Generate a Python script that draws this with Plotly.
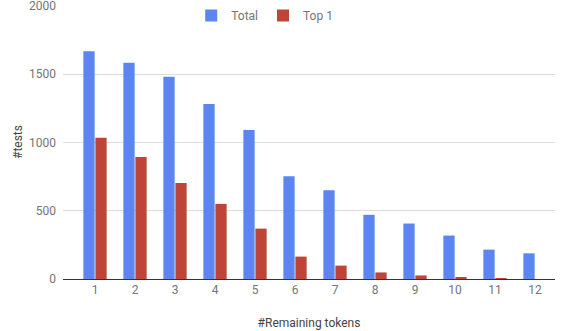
import plotly.graph_objects as go

categories = [1, 2, 3, 4, 5, 6, 7, 8, 9, 10, 11, 12]
tick_labels = ["1", "2", "3", "4", "5", "6", "7", "8", "9", "10", "11", "12"]
total = [1668, 1583, 1480, 1282, 1091, 753, 650, 470, 406, 318, 215, 188]
top1 = [1035, 893, 702, 550, 369, 164, 98, 48, 26, 12, 2, 0]

fig = go.Figure()
fig.add_trace(go.Bar(x=categories, y=total, name="Total", marker=dict(color="#5B86EF", line=dict(width=0))))
fig.add_trace(go.Bar(x=categories, y=top1, name="Top 1", marker=dict(color="#BF4438", line=dict(width=0))))

fig.update_layout(
    width=566, height=331,
    margin=dict(l=63, r=11, t=5, b=52, autoexpand=False),
    paper_bgcolor="white", plot_bgcolor="white",
    font=dict(family="Roboto", size=12, color="#757575"),
    barmode="group", bargap=0.4, bargroupgap=0.06,
    legend=dict(orientation="h", x=0.41, xanchor="center", y=1.015, yanchor="top",
                itemwidth=30, font=dict(size=12, color="#757575"), bgcolor="rgba(0,0,0,0)"),
    xaxis=dict(range=[0.2, 12.5], tickmode="array", tickvals=categories, ticktext=tick_labels,
               showgrid=False, zeroline=False, showline=True, linecolor="#333333", linewidth=1,
               ticks="", title=dict(text="#Remaining tokens", standoff=22, font=dict(size=12, color="#444444"))),
    yaxis=dict(range=[0, 2006], tickvals=[0, 500, 1000, 1500, 2000], ticktext=["0", "500", "1000", "1500", "2000"],
               showgrid=True, gridcolor="#DDDDDD", ticklabeloverflow="allow",
               zeroline=False, ticks="", ticklabelstandoff=6,
               title=dict(text="#tests", standoff=3, font=dict(size=12, color="#444444"))),
)

fig.write_html("out.html")
